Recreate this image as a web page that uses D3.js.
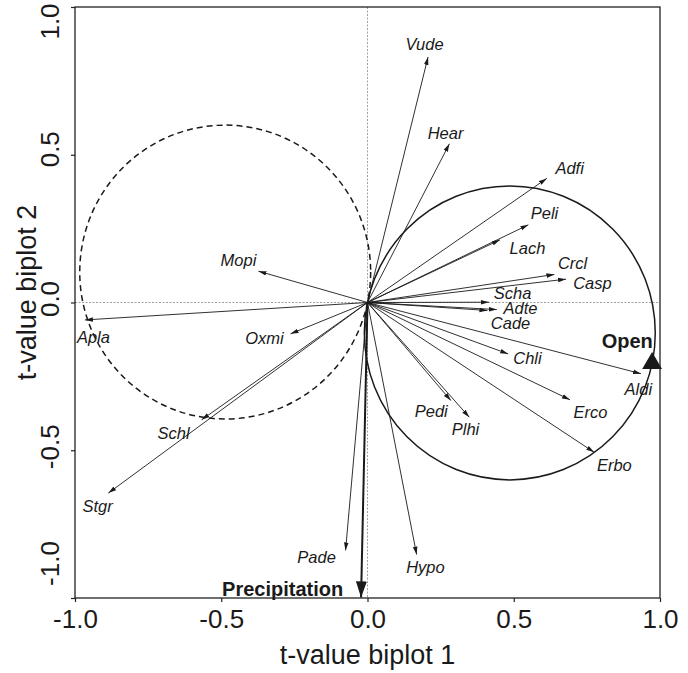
<!DOCTYPE html>
<html lang="en">
<head>
    <meta charset="UTF-8">
    <title>t-value biplot</title>
    <style>
        body { margin: 0; background: #fff; }
        svg text { font-family: "Liberation Sans", Arial, sans-serif; fill: #1a1a1a; }
        .sp { font-style: italic; font-size: 16.5px; }
        .env { font-weight: bold; font-size: 20px; }
        .tick text { font-size: 26px; }
    </style>
</head>
<body>
    <div id="chart"></div>
    <script src="https://d3js.org/d3.v7.min.js"></script>
    <script>
        // species arrow tips and label centres
        const species = ["Vude","Hear","Adfi","Peli","Lach","Crcl","Casp","Scha","Adte","Cade","Chli","Aldi","Erco","Erbo","Pedi","Plhi","Hypo","Pade","Mopi","Apla","Oxmi","Schl","Stgr"];
        const tipX   = [0.207, 0.280, 0.613, 0.550, 0.453, 0.639, 0.679, 0.415, 0.442, 0.410, 0.481, 0.935, 0.692, 0.775, 0.285, 0.348, 0.168, -0.075, -0.373, -0.966, -0.263, -0.567, -0.886];
        const tipY   = [0.831, 0.537, 0.420, 0.263, 0.212, 0.095, 0.079, 0.001, -0.024, -0.027, -0.174, -0.241, -0.329, -0.507, -0.332, -0.388, -0.853, -0.839, 0.106, -0.059, -0.106, -0.397, -0.645];
        const labelX = [0.195, 0.267, 0.691, 0.605, 0.547, 0.701, 0.769, 0.496, 0.523, 0.489, 0.547, 0.926, 0.762, 0.844, 0.218, 0.335, 0.198, -0.174, -0.441, -0.937, -0.352, -0.663, -0.923];
        const labelY = [0.874, 0.574, 0.455, 0.303, 0.184, 0.134, 0.066, 0.031, -0.019, -0.070, -0.188, -0.293, -0.370, -0.550, -0.366, -0.428, -0.894, -0.860, 0.144, -0.116, -0.120, -0.442, -0.689];

        // environmental variables
        const precip = {name: "Precipitation", x: -0.022, y: -0.998, lx: -0.29, ly: -0.97};
        const open   = {name: "Open", x: 0.973, y: -0.206, lx: 0.888, ly: -0.128};

        const ticks = [-1.0, -0.5, 0.0, 0.5, 1.0];

        const W = 688, H = 673;
        const m = {left: 75, top: 7, right: 28, bottom: 75};
        const w = W - m.left - m.right, h = H - m.top - m.bottom;

        const x = d3.scaleLinear().domain([-1, 1]).range([0, w]);
        const y = d3.scaleLinear().domain([-1, 1]).range([h, 0]);

        const svg = d3.select("#chart").append("svg").attr("width", W).attr("height", H);
        const defs = svg.append("defs");
        defs.append("marker").attr("id", "ah")
            .attr("viewBox", "0 -3 8 6").attr("refX", 8).attr("refY", 0)
            .attr("markerUnits", "userSpaceOnUse").attr("markerWidth", 8).attr("markerHeight", 6)
            .attr("orient", "auto")
            .append("path").attr("d", "M0,-2.3L8,0L0,2.3Z").attr("fill", "#1a1a1a");
        defs.append("marker").attr("id", "ahBig")
            .attr("viewBox", "0 -6 16 12").attr("refX", 16).attr("refY", 0)
            .attr("markerUnits", "userSpaceOnUse").attr("markerWidth", 16).attr("markerHeight", 12)
            .attr("orient", "auto")
            .append("path").attr("d", "M0,-5.5L16,0L0,5.5Z").attr("fill", "#1a1a1a");

        const g = svg.append("g").attr("transform", `translate(${m.left},${m.top})`);

        // zero reference lines
        g.append("line").attr("x1", x(0)).attr("x2", x(0)).attr("y1", 0).attr("y2", h)
            .attr("stroke", "#777").attr("stroke-width", 0.7).attr("stroke-dasharray", "2,1.5");
        g.append("line").attr("x1", 0).attr("x2", w).attr("y1", y(0)).attr("y2", y(0))
            .attr("stroke", "#777").attr("stroke-width", 0.7).attr("stroke-dasharray", "2,1.5");

        // Van Dobben circles for "Open"
        const cx = open.x / 2, cy = open.y / 2, r = Math.hypot(open.x, open.y) / 2;
        g.append("ellipse").attr("cx", x(cx)).attr("cy", y(cy))
            .attr("rx", x(r) - x(0)).attr("ry", y(0) - y(r))
            .attr("fill", "none").attr("stroke", "#1a1a1a").attr("stroke-width", 1.5);
        g.append("ellipse").attr("cx", x(-cx)).attr("cy", y(-cy))
            .attr("rx", x(r) - x(0)).attr("ry", y(0) - y(r))
            .attr("fill", "none").attr("stroke", "#1a1a1a").attr("stroke-width", 1.5)
            .attr("stroke-dasharray", "6,4");

        // species arrows
        const sp = species.map((s, i) => ({s, x: tipX[i], y: tipY[i], lx: labelX[i], ly: labelY[i]}));
        g.selectAll("line.arrow").data(sp).enter().append("line").attr("class", "arrow")
            .attr("x1", x(0)).attr("y1", y(0))
            .attr("x2", d => x(d.x)).attr("y2", d => y(d.y))
            .attr("stroke", "#1a1a1a").attr("stroke-width", 0.9)
            .attr("marker-end", "url(#ah)");
        g.selectAll("text.sp").data(sp).enter().append("text").attr("class", "sp")
            .attr("x", d => x(d.lx)).attr("y", d => y(d.ly))
            .attr("dy", "0.36em").attr("text-anchor", "middle")
            .text(d => d.s);

        // precipitation arrow
        g.append("line").attr("x1", x(0)).attr("y1", y(0))
            .attr("x2", x(precip.x)).attr("y2", y(precip.y))
            .attr("stroke", "#1a1a1a").attr("stroke-width", 2)
            .attr("marker-end", "url(#ahBig)");
        g.append("text").attr("class", "env")
            .attr("x", x(precip.lx)).attr("y", y(precip.ly))
            .attr("dy", "0.36em").attr("text-anchor", "middle").text(precip.name);

        // open (nominal variable)
        g.append("path").attr("d", d3.symbol(d3.symbolTriangle, 170)())
            .attr("transform", `translate(${x(open.x)},${y(open.y)})`)
            .attr("fill", "#1a1a1a");
        g.append("text").attr("class", "env")
            .attr("x", x(open.lx)).attr("y", y(open.ly))
            .attr("dy", "0.36em").attr("text-anchor", "middle").text(open.name);

        // frame
        g.append("rect").attr("width", w).attr("height", h)
            .attr("fill", "none").attr("stroke", "#222").attr("stroke-width", 1.3);

        // axes (plain hyphen for minus, like the original)
        const fmt = d => d3.format(".1f")(d).replace("\u2212", "-");
        const ax = g.append("g").attr("transform", `translate(0,${h})`)
            .call(d3.axisBottom(x).tickValues(ticks).tickFormat(fmt).tickSize(4).tickPadding(8));
        const ay = g.append("g")
            .call(d3.axisLeft(y).tickValues(ticks).tickFormat(fmt).tickSize(4).tickPadding(0));
        [ax, ay].forEach(a => {
            a.select(".domain").remove();
            a.selectAll(".tick line").attr("stroke", "#222").attr("stroke-width", 1.2);
        });
        ay.selectAll(".tick text")
            .attr("x", 0).attr("dy", 0).attr("text-anchor", "middle")
            .attr("transform", d => `translate(-16,${d === 1 ? 14 : d === -1 ? -35 : d === 0.5 ? -6 : -4}) rotate(-90)`);

        // axis titles
        svg.append("text").attr("x", m.left + w / 2).attr("y", 664)
            .attr("text-anchor", "middle").style("font-size", "27px").text("t-value biplot 1");
        svg.append("text").attr("transform", `translate(36,${m.top + h / 2 - 10}) rotate(-90)`)
            .attr("text-anchor", "middle").style("font-size", "27px").text("t-value biplot 2");
    </script>
</body>
</html>
